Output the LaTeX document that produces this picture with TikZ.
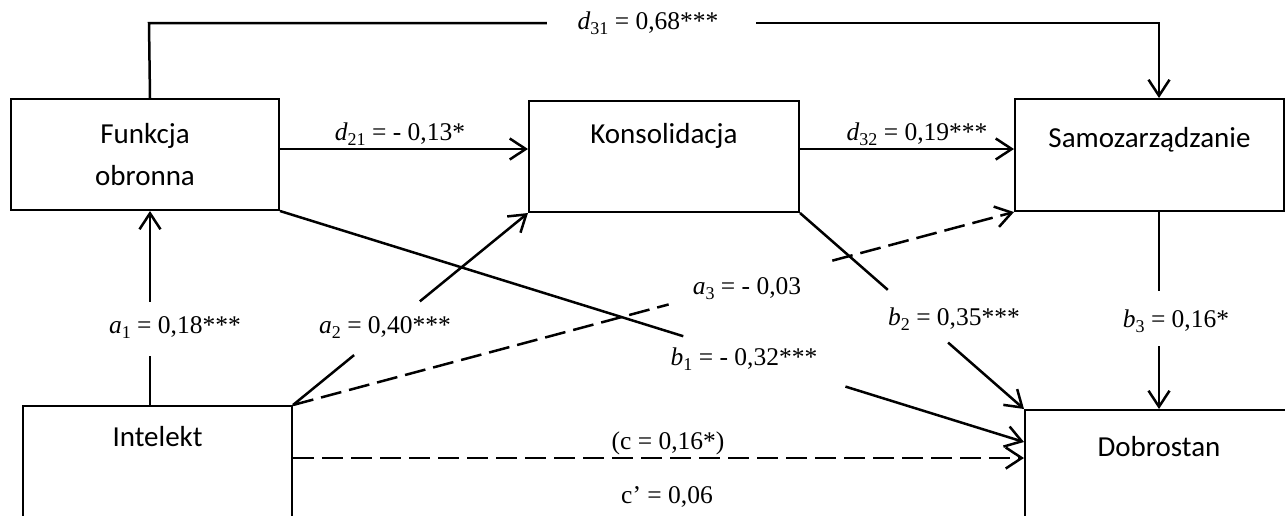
\documentclass[tikz,border=0pt]{standalone}
\usepackage{fontspec}
\setmainfont{Liberation Serif}
\newfontfamily\boxfont{Carlito}
\usetikzlibrary{arrows.meta,calc}
\newcommand\mysub[1]{\raisebox{-0.22em}{\fontsize{18}{20}\selectfont #1}}
\begin{document}
\begin{tikzpicture}[x=1pt,y=-1pt,
  box/.style={draw, line width=2pt, inner sep=0pt, anchor=north west, font=\boxfont\fontsize{29}{42}\selectfont},
  conn/.style={line width=2.5pt},
  arr/.style={conn, -{Straight Barb[length=16pt,width=21pt]}},
  dsh/.style={dash pattern=on 21pt off 8pt},
  lab/.style={anchor=base, inner sep=0pt, font=\fontsize{25.5}{30}\selectfont}]
\useasboundingbox (0,0) rectangle (1285,515);
\clip (0,0) rectangle (1285,515);
% boxes
\node[box, minimum width=268pt, minimum height=111pt, align=center] (funk) at (10,98) {Funkcja\\obronna};
\node[box, minimum width=270pt, text height=42pt, text depth=69pt] (kons) at (528,100) {Konsolidacja};
\node[box, minimum width=269pt, text height=48pt, text depth=64pt] (samo) at (1014,98) {Samozarządzanie};
\node[box, minimum width=269pt, text height=40pt, text depth=150pt] (intel) at (22,405) {Intelekt};
\node[box, minimum width=268pt, text height=46pt, text depth=150pt] (dobr) at (1024,409) {Dobrostan};
% helper coordinates
\coordinate (ax) at ([xshift=5pt]funk.south);
\coordinate (ab) at (intel.north -| ax);
\coordinate (ft) at ([xshift=5pt]funk.north);
\coordinate (t1) at (149,23);
\coordinate (t2) at (1159,23);
\coordinate (st) at (samo.north -| t2);
\coordinate (d21a) at (funk.east |- 0,149);
\coordinate (d21b) at (kons.west |- 0,149);
\coordinate (d32a) at (kons.east |- 0,149);
\coordinate (d32b) at (samo.west |- 0,149);
\coordinate (b1b) at (dobr.west |- 0,442);
\coordinate (b3a) at (samo.south -| dobr.north);
\coordinate (ca) at (intel.east |- 0,458);
\coordinate (cb) at (dobr.west |- 0,458);
% d31
\draw[conn] (ft) -- (t1) -- ($(t1)!0.394!(t2)$);
\draw[arr] ($(t1)!0.601!(t2)$) -- (t2) -- (st);
% d21, d32
\draw[arr] (d21a) -- (d21b);
\draw[arr] (d32a) -- (d32b);
% a1
\draw[conn] (ab) -- ($(ab)!0.251!(ax)$);
\draw[arr] ($(ab)!0.533!(ax)$) -- (ax);
% a2
\draw[conn] (intel.north east) -- ($(intel.north east)!0.26!(kons.south west)$);
\draw[arr] ($(intel.north east)!0.54!(kons.south west)$) -- (kons.south west);
% a3
\draw[conn, dsh] (intel.north east) -- ($(intel.north east)!0.521!(samo.south west)$);
\draw[arr, dsh] ($(intel.north east)!0.748!(samo.south west)$) -- (samo.south west);
% b1
\draw[conn] (funk.south east) -- ($(funk.south east)!0.542!(b1b)$);
\draw[arr] ($(funk.south east)!0.760!(b1b)$) -- (b1b);
% b2
\draw[conn] (kons.south east) -- ($(kons.south east)!0.392!(dobr.north west)$);
\draw[arr] ($(kons.south east)!0.661!(dobr.north west)$) -- (dobr.north west);
% b3
\draw[conn] (b3a) -- ($(b3a)!0.399!(dobr.north)$);
\draw[arr] ($(b3a)!0.682!(dobr.north)$) -- (dobr.north);
% c
\draw[arr, dsh] (ca) -- (cb);
% labels
\node[lab] (l31) at (648,29) {\textit{d}\mysub{31} = 0,68***};
\node[lab] (l21) at (400,140) {\textit{d}\mysub{21} = - 0,13*};
\node[lab] (l32) at (917,140) {\textit{d}\mysub{32} = 0,19***};
\node[lab] (la1) at (175,333) {\textit{a}\mysub{1} = 0,18***};
\node[lab] (la2) at (385,333) {\textit{a}\mysub{2} = 0,40***};
\node[lab] (la3) at (747,294) {\textit{a}\mysub{3} = - 0,03};
\node[lab] (lb1) at (744,365) {\textit{b}\mysub{1} = - 0,32***};
\node[lab] (lb2) at (954,325) {\textit{b}\mysub{2} = 0,35***};
\node[lab] (lb3) at (1176,327) {\textit{b}\mysub{3} = 0,16*};
\node[lab] (lc) at (668,449) {(c = 0,16*)};
\node[lab] (lcp) at (667,503) {c’ = 0,06};
\end{tikzpicture}
\end{document}
